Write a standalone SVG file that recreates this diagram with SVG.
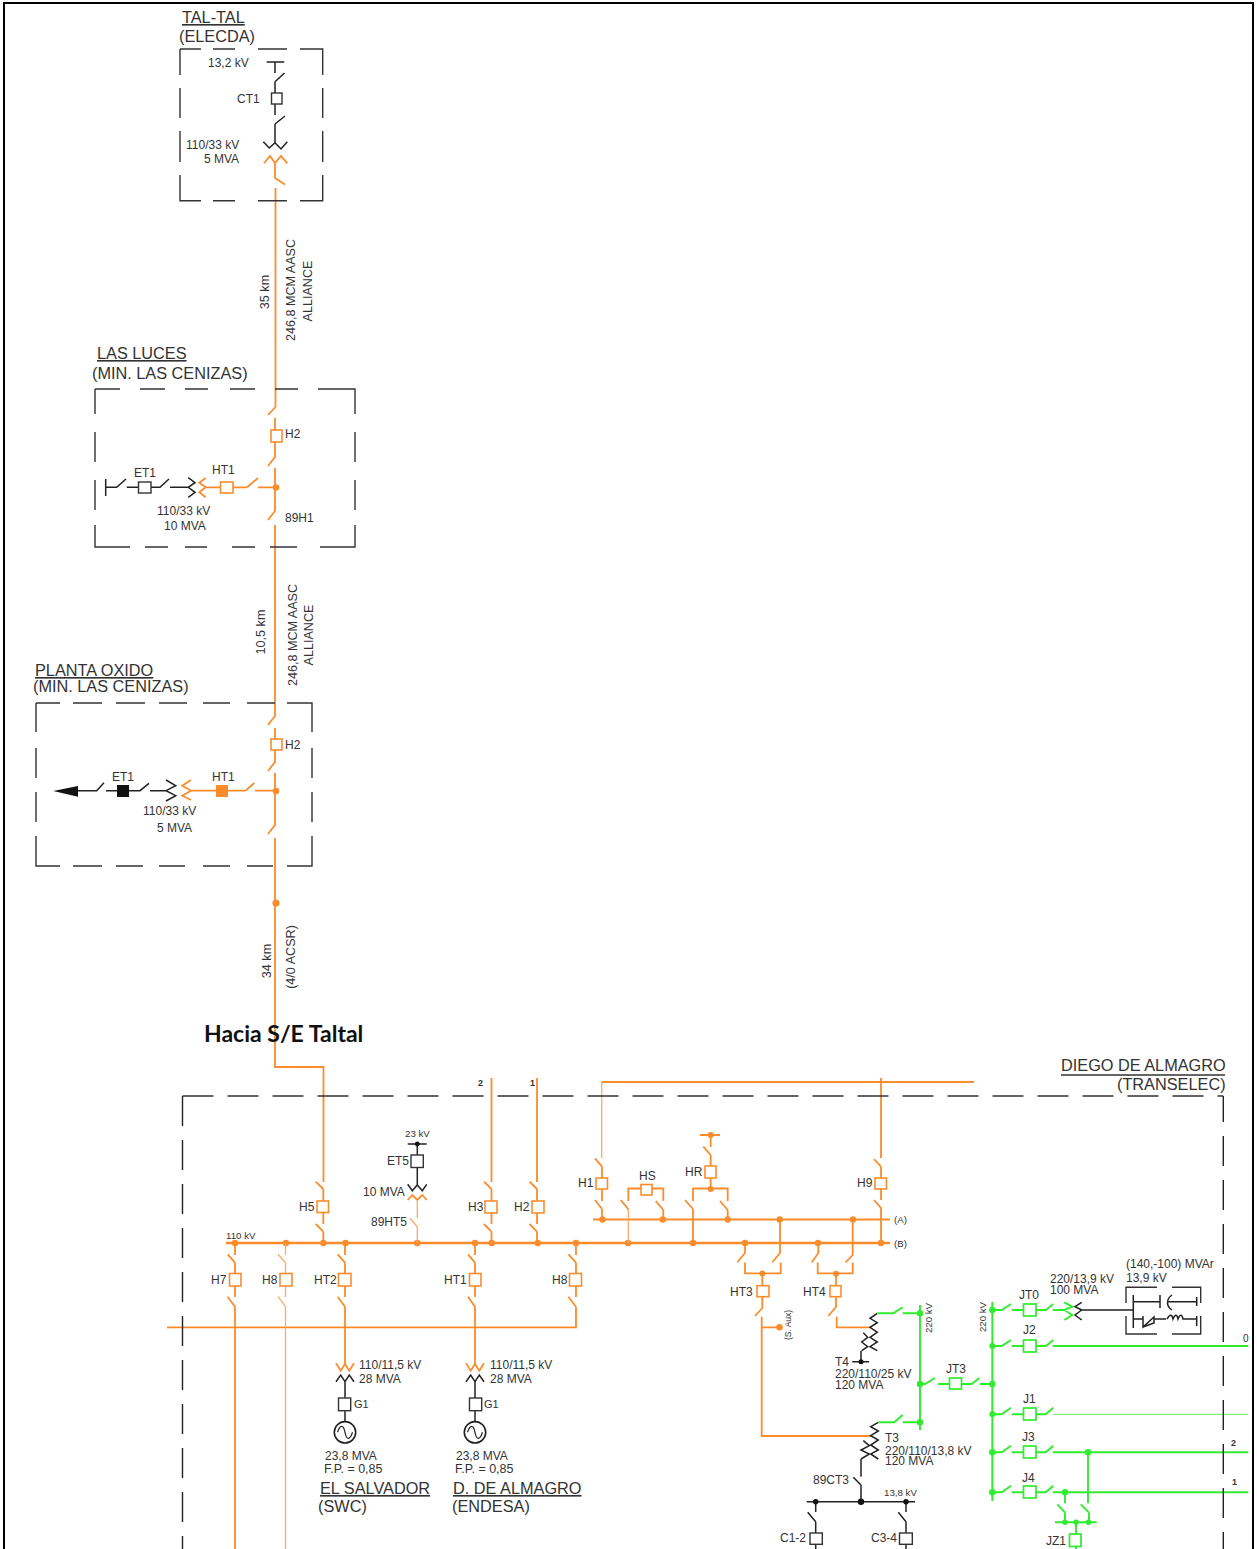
<svg xmlns="http://www.w3.org/2000/svg" width="1257" height="1549" viewBox="0 0 1257 1549">
<style>
.o,.ot,.k,.g,.gt,.d,.dv{fill:none;stroke-linecap:butt}
.o{stroke:#fb8c2c;stroke-width:1.8}
.ob{stroke:#fb8c2c;stroke-width:2.300;fill:none}
.ot{stroke:#fbaa66;stroke-width:1.3}
.k{stroke:#222;stroke-width:1.5}
.g{stroke:#2fec2f;stroke-width:1.9}
.gt{stroke:#80f080;stroke-width:1.3}
.d{stroke:#333;stroke-width:1.4}
.dv{stroke:#222;stroke-width:1.4;stroke-dasharray:30 14}
.so{fill:#fff;stroke:#fb8c2c;stroke-width:1.6}
.sk{fill:#fff;stroke:#333;stroke-width:1.4}
.sg{fill:#fff;stroke:#2fec2f;stroke-width:1.7}
.dko{fill:#fb8c2c}
.dkk{fill:#111}
.dkg{fill:#2fec2f}
text{font-family:"Liberation Sans",Arial,sans-serif;font-size:12px;fill:#333}
.tt{font-size:16.300px}
.s{font-size:9.700px}
.r{font-size:12.600px}
.u{text-decoration:underline}
.hd{font-family:Lato,"Liberation Sans",sans-serif;font-size:23px;font-weight:700;fill:#111}
.b{font-size:9px;font-weight:700}
</style>
<defs>
<g id="gen"><circle r="10.7" cx="0" cy="0" fill="none" stroke="#222" stroke-width="1.6"/><path d="M-7.500 0C-5 -8 -1.500 -8 0 0C1.500 8 5 8 7.500 0" fill="none" stroke="#222" stroke-width="1.200"/></g>
</defs>
<rect x="4" y="3" width="1249" height="1570" fill="none" stroke="#000" stroke-width="2"/>

<g id="connectors">
<path class="o" d="M275.500 188V407M275 525V715M275 838V1067H323.500V1182"/>
<path class="ob" d="M226 1243H890"/>
<path class="o" d="M593 1219.500H890"/>
<path class="o" d="M491.500 1078V1182M537 1078V1182M601.700 1082H974M881 1078V1158"/>
<path class="ot" d="M601.700 1082V1158"/>
<path class="o" d="M235 1306.700V1549M345 1306.700V1364M475 1306.700V1364M167 1327.300H576V1306.700"/>
<path class="ot" d="M285.500 1306.700V1549"/>
<path class="o" d="M761.700 1316.700V1436H871M761.700 1327.300H780"/>
<circle class="dko" cx="276" cy="903" r="3.600"/>
<path class="g" d="M920 1305V1430M992.300 1302V1501M1248.300 1346H1052.700M1248.300 1452.300H1052.700M1248.300 1492.300H1052.700M1088 1452.300V1503.300M1065 1492.300V1503.300"/>
<path class="gt" d="M1248.300 1414.300H1052.700"/>
</g>

<g id="bus-dots">
<g class="dko">
<circle cx="235" cy="1243" r="3.200"/><circle cx="286" cy="1243" r="3.200"/><circle cx="323.300" cy="1243" r="3.200"/><circle cx="345.500" cy="1243" r="3.200"/><circle cx="417.300" cy="1243" r="3.200"/><circle cx="475" cy="1243" r="3.200"/><circle cx="491.700" cy="1243" r="3.200"/><circle cx="537.700" cy="1243" r="3.200"/><circle cx="576" cy="1243" r="3.200"/><circle cx="628" cy="1243" r="3.200"/><circle cx="693" cy="1243" r="3.200"/><circle cx="745" cy="1243" r="3.200"/><circle cx="818" cy="1243" r="3.200"/><circle cx="881" cy="1243" r="3.200"/>
<circle cx="602.500" cy="1219.500" r="3.200"/><circle cx="662.700" cy="1219.500" r="3.200"/><circle cx="727.700" cy="1219.500" r="3.200"/><circle cx="779.700" cy="1219.500" r="3.200"/><circle cx="853" cy="1219.500" r="3.200"/>
</g>
<g class="dkg">
<circle cx="992.300" cy="1310" r="3.200"/><circle cx="992.300" cy="1346" r="3"/><circle cx="992.300" cy="1384" r="3.200"/><circle cx="992.300" cy="1414.300" r="3"/><circle cx="992.300" cy="1452.300" r="3.200"/><circle cx="992.300" cy="1492.300" r="3.200"/>
<circle cx="920" cy="1313.300" r="3.200"/><circle cx="920" cy="1384" r="3.200"/><circle cx="920" cy="1422.300" r="3.200"/><circle cx="1088" cy="1452.300" r="3.200"/><circle cx="1065" cy="1492.300" r="3.200"/>
</g>
</g>

<g id="tal-tal">
<path class="d" d="M180 49H201M213 49H235M258 49H287M300 49H322.700V75M322.700 88V118M322.700 131V162M322.700 175V200.700H300M287 200.700H258M235 200.700H213M201 200.700H180V175M180 162V131M180 118V88M180 75V49"/>
<text class="tt u" x="182" y="23">TAL-TAL</text>
<text class="tt" x="179" y="42">(ELECDA)</text>
<text x="208" y="67">13,2 kV</text>
<text x="237" y="103">CT1</text>
<text x="186" y="149">110/33 kV</text>
<text x="204" y="163">5 MVA</text>
<path class="k" d="M266.700 62H284.300M275 62V73M275 81.700L284.500 73M275 81.700V93M275 104V115M275 124L285 116M275 124V143M263.300 141.700L269.300 148L275 142.700L281 149L287.300 141.700"/>
<rect class="sk" x="271.500" y="93" width="10.500" height="11"/>
<path class="o" d="M264 163.300L270 156L275 163L281 156L287.300 163.300M275 163V178L285 184.500"/>
</g>

<g id="las-luces">
<path class="d" d="M95 389H120M140 389H165M185 389H208M230 389H255M275 389H298M318 389H355V414M355 432V462M355 480V510M355 525V547H320M297 547H270M255 547H232M207 547H185M168 547H145M130 547H95V525M95 510V480M95 462V432M95 414V389"/>
<text class="tt u" x="97" y="359">LAS LUCES</text>
<text class="tt" x="92" y="379">(MIN. LAS CENIZAS)</text>
<path class="o" d="M275.500 407L268 415M275 418V430M275 442V457L268 466M275 468V511L268 520M258 487.300H276M247 487.300L258 478M233 487.300H247M205 487.300H220M205.700 478L199.300 482.700L205.700 487.300L199.300 492.300L205.700 497.300"/>
<rect class="so" x="271" y="430" width="11" height="12"/>
<rect class="so" x="220.500" y="482" width="12.500" height="11"/>
<circle class="dko" cx="276" cy="487.500" r="3.300"/>
<path class="k" d="M105.700 479V496M105.700 487.300H116.700L126 479M126.700 487.300H138M151 487.300H160L169 479M170 487.300H188.300M188.300 477.700L195 482.700L188.300 487.300L195 492.300L188.300 497.300"/>
<rect class="sk" x="138.500" y="482" width="12.500" height="11"/>
<text x="285" y="438">H2</text>
<text x="134" y="477">ET1</text>
<text x="212" y="474">HT1</text>
<text x="157" y="515">110/33 kV</text>
<text x="164" y="530">10 MVA</text>
<text x="285" y="522">89H1</text>
</g>

<g id="planta-oxido">
<path class="d" d="M36 703H60M73 703H102M116 703H145M159 703H187M203 703H230M247 703H275M287 703H312V732M312 748V778M312 792V822M312 836V866H287M273 866H247M230 866H203M185 866H159M143 866H116M102 866H73M60 866H36V836M36 822V792M36 778V748M36 732V703"/>
<text class="tt u" x="35" y="676">PLANTA OXIDO</text>
<text class="tt" x="33" y="692">(MIN. LAS CENIZAS)</text>
<path class="o" d="M275.700 715L268 725M275 728V739M275 750V762L268 771M275 773V825L268 834M255 790.700H276M245.700 790.700L254.300 783M228 790.700H245.700M191.700 790.700H216M191 780L182.300 785.700L191 790.700L182.300 795.700L191 800"/>
<rect class="so" x="271" y="739" width="11" height="11"/>
<rect x="216" y="785" width="12" height="12" fill="#fb8c2c"/>
<circle class="dko" cx="276" cy="791" r="3.300"/>
<path class="k" d="M76.700 790.700H96.700L104 782.700M106 790.700H117M129 790.700H140L149 783.300M150 790.700H166M166 780L175.700 785.700L166 790.700L175.700 795.700L166 801"/>
<rect x="117" y="785" width="12" height="12" fill="#111"/>
<path d="M53.300 791L78 786V796.700Z" fill="#111"/>
<text x="285" y="749">H2</text>
<text x="112" y="781">ET1</text>
<text x="212" y="781">HT1</text>
<text x="143" y="815">110/33 kV</text>
<text x="157" y="832">5 MVA</text>
</g>

<g id="line-labels">
<text class="r" transform="translate(269 292) rotate(-90)" text-anchor="middle">35 km</text>
<text class="r" transform="translate(295 290) rotate(-90)" text-anchor="middle">246,8 MCM AASC</text>
<text class="r" transform="translate(312 291) rotate(-90)" text-anchor="middle">ALLIANCE</text>
<text class="r" transform="translate(265 632) rotate(-90)" text-anchor="middle">10,5 km</text>
<text class="r" transform="translate(297 635) rotate(-90)" text-anchor="middle">246,8 MCM AASC</text>
<text class="r" transform="translate(313 635) rotate(-90)" text-anchor="middle">ALLIANCE</text>
<text class="r" transform="translate(271 961) rotate(-90)" text-anchor="middle">34 km</text>
<text class="r" transform="translate(295 957) rotate(-90)" text-anchor="middle">(4/0 ACSR)</text>
<text class="hd" x="204" y="1042">Hacia S/E Taltal</text>
</g>

<g id="diego-de-almagro">
<path class="dv" d="M182.500 1096V1549"/>
<path class="dv" d="M1223.300 1096V1549" stroke-dashoffset="4"/>
<path class="d" d="M182.500 1096H1223.300" stroke-dasharray="31 14"/>
<text class="tt" x="1061" y="1071">DIEGO DE ALMAGRO</text>
<path class="d" d="M1061 1075H1225"/>
<text class="tt" x="1117" y="1090">(TRANSELEC)</text>
<text class="b" x="478" y="1086">2</text>
<text class="b" x="530" y="1086">1</text>
<text class="s" x="226" y="1239">110 kV</text>
<text class="s" x="894" y="1223">(A)</text>
<text class="s" x="894" y="1247">(B)</text>
</g>

<g id="H5"><path class="o" d="M323.300 1189L315.700 1181.700M323.300 1189V1201M323.300 1212V1224M323.300 1231.700L315.700 1224M323.300 1231.700V1243"/><rect class="so" x="317" y="1201" width="11.500" height="11.500"/><text x="299" y="1211">H5</text></g>
<g id="H3"><path class="o" d="M491.500 1189L484 1181.700M491.500 1189V1201M491.500 1212V1224M491.500 1231.700L484 1224M491.500 1231.700V1243"/><rect class="so" x="485" y="1201" width="12" height="12"/><text x="468" y="1211">H3</text></g>
<g id="H2"><path class="o" d="M537 1189L529.500 1181.700M537 1189V1201M537 1212V1224M537 1231.700L529.500 1224M537 1231.700V1243"/><rect class="so" x="532" y="1201" width="12" height="12"/><text x="514" y="1211">H2</text></g>
<g id="H1"><path class="o" d="M602 1166.700L595 1158.300M602 1166.700V1178M602 1189V1201M602 1209L595 1200M602 1209V1219.500"/><rect class="so" x="596" y="1178" width="11.500" height="11"/><text x="578" y="1187">H1</text></g>
<g id="H9"><path class="o" d="M881 1166.700L874 1159M881 1166.700V1178M881 1189V1200M881 1208L874 1200M881 1208V1243"/><rect class="so" x="875" y="1178" width="11.500" height="11"/><text x="857" y="1187">H9</text></g>
<g id="HS"><path class="o" d="M628.300 1201V1188.500H663.300V1201M628.300 1209.300L620.700 1200M663.300 1210L655.700 1201M663.300 1210V1219.500"/><path class="ot" d="M628.300 1209.300V1243"/><rect class="so" x="641" y="1184.500" width="11" height="10.500"/><text x="639" y="1180">HS</text></g>
<g id="HR"><path class="o" d="M700 1135H720M710.700 1135V1147M710.700 1155L703.300 1146.700M710.700 1155V1166M710.700 1178V1189M693 1201V1188.500H727.700V1201M693 1209L685 1200M693 1209V1243M727.700 1210L720 1201M727.700 1210V1219.500"/><circle class="dko" cx="710.700" cy="1135" r="3"/><circle class="dko" cx="710.700" cy="1189" r="3"/><rect class="so" x="705" y="1166" width="11" height="12"/><text x="685" y="1176">HR</text></g>

<g id="H7"><path class="o" d="M235 1243V1255M235 1262.700L227.700 1254.300M235 1262.700V1273.500M235 1286V1297M235 1306.700L227.700 1296.700"/><rect class="so" x="229.500" y="1273.500" width="11.500" height="12.500"/><text x="211" y="1284">H7</text></g>
<g id="H8a"><path class="ot" d="M285.500 1243V1255M285.500 1262.700L278 1254.300M285.500 1262.700V1273.500M285.500 1286V1297M285.500 1306.700L278 1296.700"/><rect class="so" x="280" y="1273.500" width="12" height="12.500"/><text x="262" y="1284">H8</text></g>
<g id="HT2"><path class="o" d="M345 1243V1255M345 1262.700L337.700 1254.300M345 1262.700V1273.500M345 1286V1297M345 1306.700L337.700 1296.700"/><rect class="so" x="338.500" y="1273.500" width="12.500" height="12.500"/><text x="314" y="1284">HT2</text></g>
<g id="HT1"><path class="o" d="M475 1243V1255M475 1262.700L468 1254.300M475 1262.700V1273.500M475 1286V1297M475 1306.700L468 1296.700"/><rect class="so" x="469.500" y="1273.500" width="11.500" height="12.500"/><text x="444" y="1284">HT1</text></g>
<g id="H8b"><path class="o" d="M576 1243V1255M576 1262.700L568.500 1254.300M576 1262.700V1273.500M576 1286V1297M576 1306.700L568.300 1296.700"/><rect class="so" x="569.500" y="1273.500" width="12" height="12.500"/><text x="552" y="1284">H8</text></g>

<g id="ET5"><path class="k" d="M407.700 1144H426.700M417.300 1144V1155M417.300 1167.500V1185M407.700 1184.300L412.300 1190.700L417.300 1185L422.300 1190.700L426.700 1184.300"/><circle class="dkk" cx="417.300" cy="1144" r="2.400"/><rect class="sk" x="411" y="1155" width="12.300" height="12.500"/><path class="o" d="M407.700 1200L412.300 1195L417.300 1200L422.300 1195L426.700 1200"/><path class="ot" d="M417.300 1200V1218M417.300 1226.700L410 1218.300M417.300 1226.700V1243"/>
<text class="s" x="405" y="1137">23 kV</text><text x="387" y="1165">ET5</text><text x="363" y="1196">10 MVA</text><text x="371" y="1226">89HT5</text></g>

<g id="G-salvador"><path class="o" d="M336 1363.300L340.700 1370.700L345 1364L349.300 1370.700L354 1363.300"/><path class="k" d="M336 1381.700L340.700 1375L345 1381.700L349.300 1375L354 1381.700M345 1381.700V1398M345 1410.700V1421.700"/><rect class="sk" x="338.500" y="1398" width="12.200" height="12.700"/><use href="#gen" x="345" y="1432.300"/>
<text x="359" y="1369">110/11,5 kV</text><text x="359" y="1383">28 MVA</text><text style="font-size:11px" x="354" y="1408">G1</text><text x="325" y="1460">23,8 MVA</text><text style="font-size:12.500px" x="324" y="1473">F.P. = 0,85</text><text class="tt u" x="320" y="1494">EL SALVADOR</text><text class="tt" x="318" y="1512">(SWC)</text></g>
<g id="G-almagro"><path class="o" d="M466 1363.300L470.700 1370.700L475 1364L479.300 1370.700L484 1363.300"/><path class="k" d="M466 1381.700L470.700 1375L475 1381.700L479.300 1375L484 1381.700M475 1381.700V1398M475 1410.700V1421.700"/><rect class="sk" x="469.500" y="1398" width="12.200" height="12.700"/><use href="#gen" x="475" y="1432.300"/>
<text x="490" y="1369">110/11,5 kV</text><text x="490" y="1383">28 MVA</text><text style="font-size:11px" x="484" y="1408">G1</text><text x="456" y="1460">23,8 MVA</text><text style="font-size:12.500px" x="455" y="1473">F.P. = 0,85</text><text class="tt u" x="453" y="1494">D. DE ALMAGRO</text><text class="tt" x="452" y="1512">(ENDESA)</text></g>

<g id="HT3"><path class="o" d="M745 1243V1253L737.300 1262.300M780 1219.500V1253L772.300 1262.300M745 1262.500V1273.300H780.700V1262.500M762.300 1273.300V1285.700M762.300 1296.700V1308L755 1316"/><circle class="dko" cx="762.300" cy="1273.500" r="3"/><circle class="dko" cx="779.500" cy="1327.300" r="3.300"/><rect class="so" x="757" y="1285.700" width="12" height="11"/><text x="730" y="1296">HT3</text><text transform="translate(791 1325) rotate(-90)" text-anchor="middle" style="font-size:8.500px">(S. Aux)</text></g>
<g id="HT4"><path class="o" d="M818.300 1243V1253.300L811.700 1262.300M852.700 1219.500V1255L845.700 1262.300"/><path class="o" d="M817.700 1262.500V1273.300H852.700V1262.500M836 1273.300V1285.700M836 1296.700V1307L828.300 1316M836.700 1316.700V1327.300H870"/><circle class="dko" cx="836" cy="1273.700" r="3"/><rect class="so" x="830" y="1285.700" width="11" height="11"/><text x="803" y="1296">HT4</text></g>

<g id="T4"><path class="k" d="M877.300 1313.300L870 1318.300L877.300 1322.700L870 1327.300L877.300 1332.300L870 1337.300L877.300 1342L870 1346.700L877.300 1350.700M863.300 1332.700L867.700 1337.300L861.700 1342L867.700 1346.700L861.700 1350.700M861 1350.700V1361.700M852.300 1361.700H869"/><circle class="dkk" cx="861" cy="1361.700" r="2.500"/><path class="g" d="M877.300 1313.300H893.300L902.700 1307.300M902.700 1313.300H920"/>
<text x="835" y="1366">T4</text><text x="835" y="1378">220/110/25 kV</text><text x="835" y="1389">120 MVA</text><text class="s" transform="translate(932 1318) rotate(-90)" text-anchor="middle">220 kV</text></g>

<g id="T3"><path class="k" d="M878.300 1422.300L870.700 1426.700L878.300 1431L870.700 1435.700L878.300 1440L870.700 1445L878.300 1450L870.700 1454L878.300 1459M863.300 1440.700L869.300 1445.700L861 1450L869.300 1454L861 1459M861 1459V1476.700M861 1485L853.300 1477.300M861 1485V1501.700M806.700 1501.700H915M815.700 1501.700V1512M815.700 1521.700L807.700 1512.300M815.700 1521.700V1533M906 1501.700V1512M906 1521.700L898.300 1512.300M906 1521.700V1533M815.700 1544V1549M906 1544V1549"/><circle class="dkk" cx="815.700" cy="1501.700" r="2.700"/><circle class="dkk" cx="861" cy="1501.700" r="3.200"/><circle class="dkk" cx="906" cy="1501.700" r="2.700"/><rect class="sk" x="810" y="1533" width="12.300" height="11.300"/><rect class="sk" x="899.500" y="1533" width="12.800" height="11.300"/><path class="g" d="M878.300 1422.300H894.300L902.700 1415M902.700 1422.300H920"/>
<text x="885" y="1442">T3</text><text x="885" y="1455">220/110/13,8 kV</text><text x="885" y="1465">120 MVA</text><text x="813" y="1484">89CT3</text><text class="s" x="884" y="1496">13,8 kV</text><text x="780" y="1542">C1-2</text><text x="871" y="1542">C3-4</text></g>

<g id="JT3"><path class="g" d="M920 1384H925L935 1378M938 1384H949M961.700 1384H971.700L979.300 1378M980 1384H992.300"/><rect class="sg" x="949.500" y="1378" width="12" height="11"/><text x="946" y="1373">JT3</text></g>
<g id="JT0"><path class="g" d="M992.300 1310H1001.700L1011 1304M1011.700 1310H1023.300M1036 1310H1046L1053.300 1304M1052.700 1310H1065M1064.300 1302.300L1072.300 1306.700L1064.300 1310L1072.300 1315L1064.300 1320"/><rect class="sg" x="1023.500" y="1304" width="12.500" height="12"/><path class="k" d="M1081.700 1302.300L1075 1306.700L1081.700 1310L1075 1315L1081.700 1320M1081.700 1310H1133.300"/>
<text class="s" transform="translate(986 1317) rotate(-90)" text-anchor="middle">220 kV</text><text x="1019" y="1299">JT0</text><text x="1050" y="1283">220/13,9 kV</text><text x="1050" y="1294">100 MVA</text></g>
<g id="compensator"><path class="k" d="M1133.300 1295V1328M1133.300 1301.700H1160M1160 1295V1308M1172 1295C1166 1299 1166 1306 1172 1310M1168 1301.700H1196.700M1196.700 1297V1306M1133.300 1319H1143M1143 1316V1327L1154 1317V1323L1143 1327M1154 1319H1166M1167 1319C1170 1314 1172 1314 1173 1319C1175 1314 1177 1314 1178 1319C1180 1314 1182 1314 1183 1319H1196.700M1196.700 1316V1326" stroke-width="1.100"/><path class="d" d="M1126 1303V1287.300H1157M1172 1287.300H1200.700V1303M1126 1316V1334H1157M1172 1334H1200.700V1316" stroke-width="1.200"/>
<text x="1126" y="1268">(140,-100) MVAr</text><text x="1126" y="1282">13,9 kV</text></g>
<g id="J2"><path class="g" d="M992.300 1346H1001.700L1011 1340M1011.700 1346H1023.300M1036 1346H1046L1053.300 1340"/><rect class="sg" x="1023.500" y="1340" width="12.500" height="12"/><text x="1023" y="1334">J2</text><text x="1243" y="1342" style="font-size:10px">0</text></g>
<g id="J1"><path class="g" d="M992.300 1414.300H1001.700L1011 1407.700M1011.700 1414.300H1023.300M1036 1414.300H1045.700L1053.300 1407.700"/><rect class="sg" x="1023.500" y="1408" width="12.500" height="12"/><text x="1023" y="1403">J1</text></g>
<g id="J3"><path class="g" d="M992.300 1452.300H1001.700L1011 1445.700M1011.700 1452.300H1023.300M1036 1452.300H1045.700L1053.300 1445.700"/><rect class="sg" x="1023.500" y="1446" width="12.500" height="12"/><text x="1022" y="1441">J3</text><text class="b" x="1231" y="1446">2</text></g>
<g id="J4"><path class="g" d="M992.300 1492.300H1001.700L1011 1485.700M1011.700 1492.300H1023.300M1036 1492.300H1045.700L1053.300 1485.700"/><rect class="sg" x="1023.500" y="1486" width="12.500" height="12"/><text x="1022" y="1482">J4</text><text class="b" x="1232" y="1485">1</text></g>
<g id="JZ1"><path class="g" d="M1089 1512.700L1080.700 1504.300M1089 1512.700V1522.500M1065 1512.700L1057.300 1504.300M1065 1512.700V1522.500M1055 1522.300H1096.700M1076 1522.300V1534M1076 1546.500V1549"/><circle class="dkg" cx="1065" cy="1522.300" r="2.700"/><circle class="dkg" cx="1076" cy="1522.300" r="2.700"/><circle class="dkg" cx="1088.500" cy="1522.300" r="2.700"/><rect class="sg" x="1069.500" y="1534" width="11.500" height="12.500"/><text x="1046" y="1545">JZ1</text></g>
</svg>
